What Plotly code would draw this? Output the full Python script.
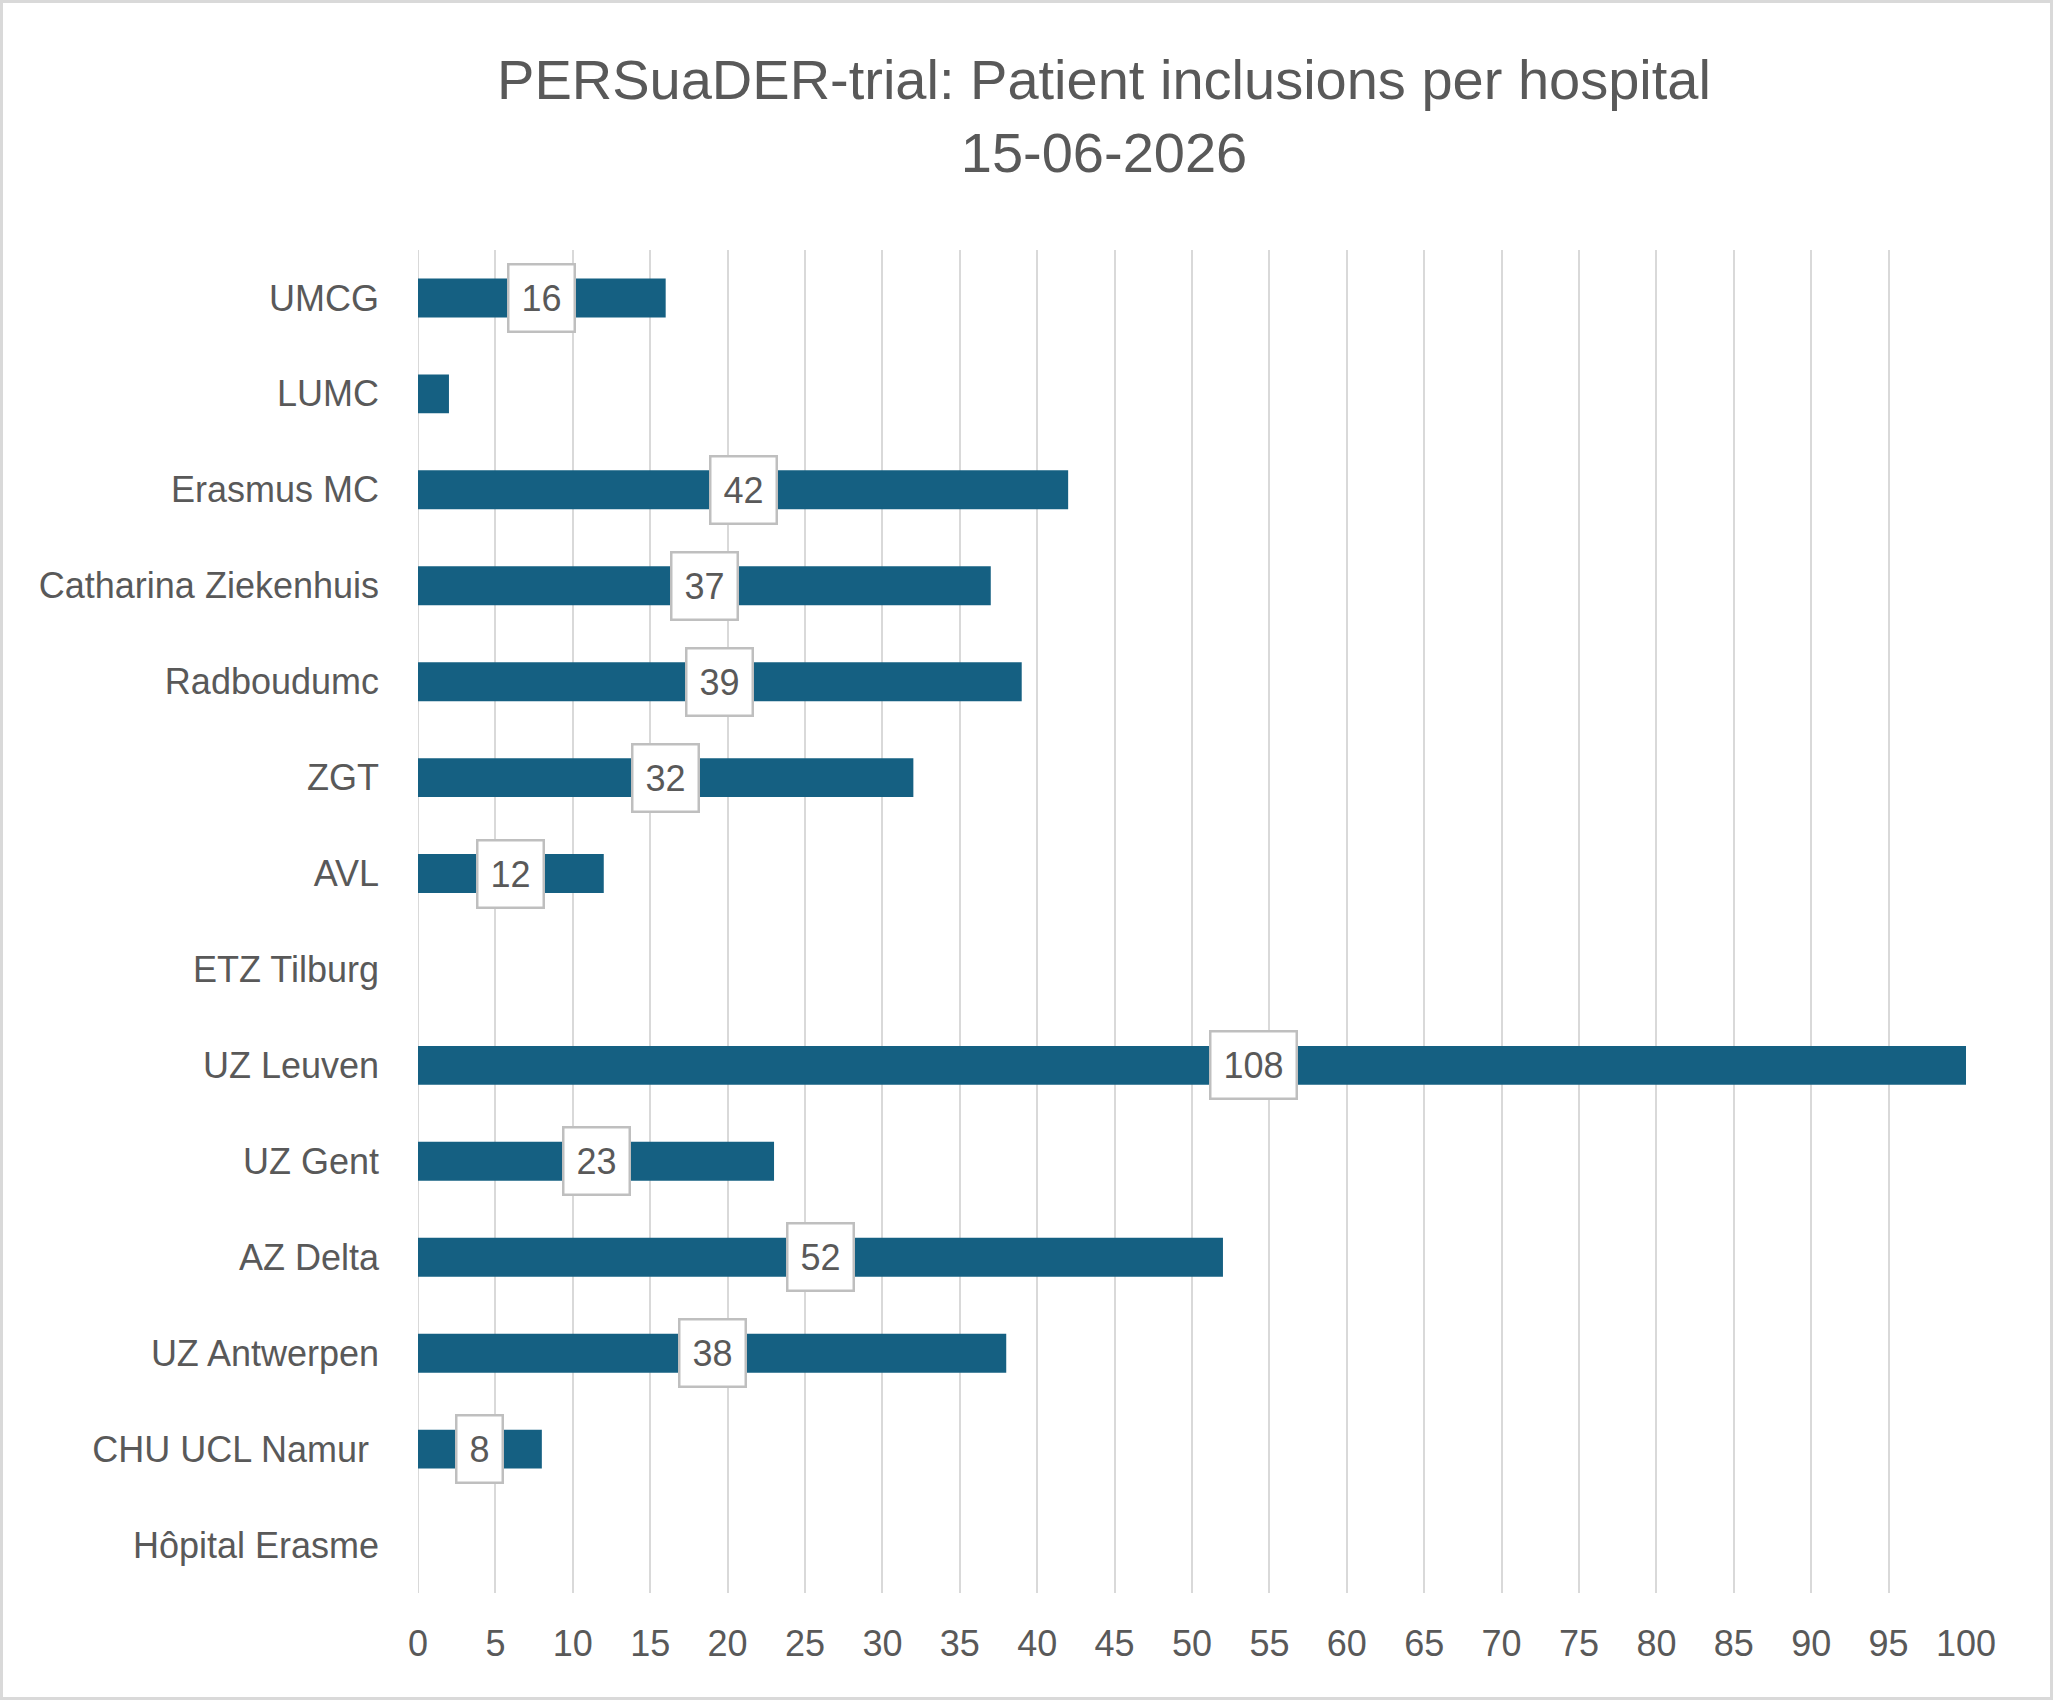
import plotly.graph_objects as go

hospitals = ["UMCG", "LUMC", "Erasmus MC", "Catharina Ziekenhuis", "Radboudumc", "ZGT", "AVL",
             "ETZ Tilburg", "UZ Leuven", "UZ Gent", "AZ Delta", "UZ Antwerpen", "CHU UCL Namur\u00a0",
             "Hôpital Erasme"]
inclusions = [16, 2, 42, 37, 39, 32, 12, 0, 108, 23, 52, 38, 8, 0]
data_labels = ["16", "", "42", "37", "39", "32", "12", "", "108", "23", "52", "38", "8", ""]
x_ticks = list(range(0, 101, 5))

W, H = 2053, 1700
ML, MR, MT, MB = 418, 87, 250, 107
PW, PH = W - ML - MR, H - MT - MB

grey_text = "#595959"
font_family = "Liberation Sans, Arial, sans-serif"

fig = go.Figure()
fig.add_trace(go.Bar(
    y=hospitals, x=inclusions, orientation="h",
    marker=dict(color="#156082", line=dict(width=0)),
    hoverinfo="x+y", cliponaxis=True,
))

for h, v, t in zip(hospitals, inclusions, data_labels):
    if t:
        fig.add_annotation(
            x=v / 2, y=h, xref="x", yref="y", text=t, showarrow=False,
            font=dict(size=36, color=grey_text, family=font_family),
            bgcolor="white", bordercolor="#bfbfbf", borderwidth=2.5, borderpad=12,
            xanchor="center", yanchor="middle",
        )

# gridline at the axis start (x = 0)
fig.add_shape(type="line", xref="x", yref="paper", x0=x_ticks[0], x1=x_ticks[0], y0=0, y1=1,
              line=dict(color="#d9d9d9", width=2), layer="below")

# outer chart border
fig.add_shape(type="rect", xref="paper", yref="paper",
              x0=-(ML - 1.5) / PW, x1=1 + (MR - 1.5) / PW,
              y0=-(MB - 1.5) / PH, y1=1 + (MT - 1.5) / PH,
              line=dict(color="#d9d9d9", width=3), fillcolor="rgba(0,0,0,0)", layer="below")

fig.update_layout(
    width=W, height=H,
    margin=dict(l=ML, r=MR, t=MT, b=MB, pad=0),
    paper_bgcolor="white", plot_bgcolor="white",
    bargap=0.594,
    showlegend=False,
    font=dict(family=font_family, color=grey_text, size=36),
    title=dict(
        text="PERSuaDER-trial: Patient inclusions per hospital<br>15-06-2026",
        x=1104 / W, xanchor="center", xref="container",
        y=1 - 99 / H, yanchor="middle", yref="container",
        font=dict(size=56, color=grey_text, family=font_family),
    ),
    xaxis=dict(
        range=[0, 100], tickvals=x_ticks, ticktext=[str(v) for v in x_ticks],
        showgrid=True, gridcolor="#d9d9d9", gridwidth=2,
        zeroline=False,
        showline=False, ticks="",
        tickfont=dict(size=36, color=grey_text),
        ticklabelstandoff=26,
    ),
    yaxis=dict(
        autorange="reversed", showgrid=False, zeroline=False, showline=False, ticks="",
        tickfont=dict(size=36, color=grey_text),
        ticklabelstandoff=38,
    ),
)

fig.write_html("out.html")
